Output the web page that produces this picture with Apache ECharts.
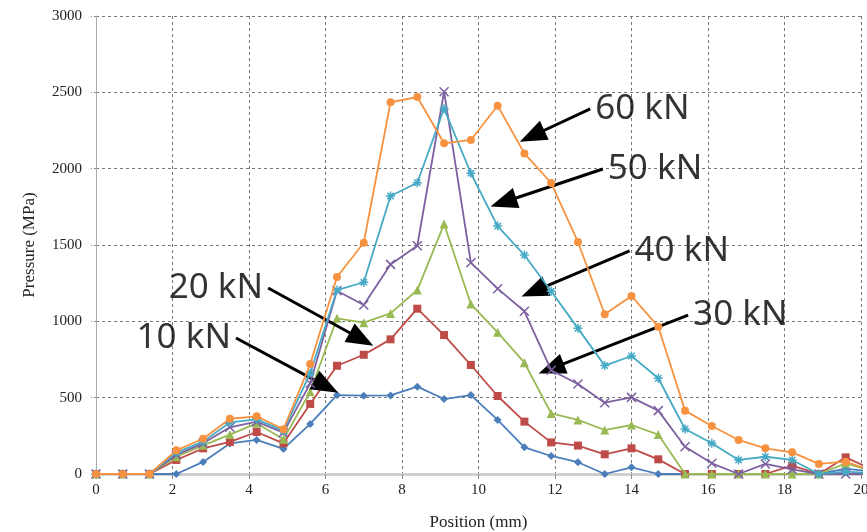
<!DOCTYPE html>
<html>
<head>
<meta charset="utf-8">
<script src="https://cdn.jsdelivr.net/npm/echarts@6/dist/echarts.min.js"></script>
<style>
  html, body { margin: 0; padding: 0; background: #fff; }
  #chart { width: 867px; height: 532px; }
</style>
</head>
<body>
<div id="chart"></div>
<script>
var myChart = echarts.init(document.getElementById('chart'));

// position (mm) of each measuring point
var positions = [0, 0.7, 1.4, 2.1, 2.8, 3.5, 4.2, 4.9, 5.6, 6.3, 7.0, 7.7, 8.4, 9.1, 9.8,
    10.5, 11.2, 11.9, 12.6, 13.3, 14.0, 14.7, 15.4, 16.1, 16.8, 17.5, 18.2, 18.9, 19.6, 20.3];

// pressure (MPa) for each load
var p10 = [0, 0, 0, 0, 79, 200, 223, 164, 328, 517, 513, 515, 572, 491, 517,
    354, 175, 118, 77, 0, 44, 0, 0, 0, 0, 0, 0, 0, 35, 15];
var p20 = [0, 0, 0, 92, 168, 210, 275, 201, 459, 709, 781, 882, 1083, 910, 714,
    511, 343, 207, 186, 129, 168, 96, 0, 0, 0, 0, 55, 0, 109, 30];
var p30 = [0, 0, 0, 113, 188, 258, 332, 227, 539, 1020, 991, 1052, 1205, 1637, 1113,
    928, 729, 397, 354, 288, 321, 258, 0, 0, 0, 0, 0, 0, 70, 20];
var p40 = [0, 0, 0, 125, 201, 306, 343, 271, 594, 1200, 1107, 1373, 1495, 2504, 1384,
    1214, 1066, 680, 590, 467, 502, 415, 179, 70, 0, 66, 31, 0, 0, 0];
var p50 = [0, 0, 0, 140, 212, 338, 358, 284, 660, 1205, 1256, 1821, 1908, 2393, 1970,
    1624, 1434, 1197, 954, 710, 773, 627, 295, 201, 92, 113, 92, 0, 15, 5];
var p60 = [0, 0, 0, 155, 231, 362, 378, 293, 720, 1290, 1515, 2435, 2469, 2166, 2188,
    2412, 2100, 1906, 1520, 1046, 1166, 965, 415, 314, 223, 168, 142, 66, 81, 20];

var loads = ['10 kN', '20 kN', '30 kN', '40 kN', '50 kN', '60 kN'];
var colors = ['#4A7EBB', '#BE4B48', '#98B954', '#7D60A0', '#46AAC5', '#F69240'];

// annotation arrows: label side, start [x, y], arrow head [x, y]
var arrowStart = [[3.66, 891], [4.50, 1218], [15.48, 1041], [13.95, 1461], [13.25, 1998], [12.92, 2391]];
var arrowEnd = [[6.02, 574], [6.94, 883], [11.90, 690], [11.45, 1197], [10.65, 1780], [11.40, 2214]];
var labelSide = ['left', 'left', 'right', 'right', 'right', 'right'];

var starPath = 'path://M5,0L5,10M0,5L10,5M1.5,1.5L8.5,8.5M8.5,1.5L1.5,8.5';
var crossPath = 'path://M0,0L10,10M10,0L0,10';
var symbols = ['diamond', 'rect', 'triangle', crossPath, starPath, 'circle'];
var symbolSizes = [8, 8, 9, 9, 9, 8];

function pairs(vals) {
    var out = [];
    for (var i = 0; i < positions.length; i++) {
        out.push([positions[i], vals[i]]);
    }
    return out;
}

var allValues = [p10, p20, p30, p40, p50, p60];
var series = [];
for (var s = 0; s < allValues.length; s++) {
    var isPath = symbols[s].indexOf('path://') === 0;
    series.push({
        name: loads[s],
        type: 'line',
        data: pairs(allValues[s]),
        symbol: symbols[s],
        symbolSize: symbolSizes[s],
        clip: true,
        lineStyle: { color: colors[s], width: 1.8 },
        itemStyle: {
            color: colors[s],
            borderColor: colors[s],
            borderWidth: isPath ? 1.5 : 0
        },
        emphasis: { disabled: true },
        z: 2 + s
    });
}

// arrows
var arrowLines = [];
for (var a = 0; a < arrowStart.length; a++) {
    arrowLines.push([{ coord: arrowStart[a] }, { coord: arrowEnd[a] }]);
}
series.push({
    type: 'line',
    data: [],
    z: 20,
    markLine: {
        silent: true,
        symbol: ['none', 'triangle'],
        symbolSize: [21, 27],
        label: { show: false },
        lineStyle: { color: '#000', width: 3, type: 'solid' },
        emphasis: { disabled: true },
        data: arrowLines
    }
});

// annotation texts
var labelData = [];
for (var b = 0; b < arrowStart.length; b++) {
    labelData.push({
        value: arrowStart[b],
        label: {
            show: true,
            position: labelSide[b],
            distance: 5,
            formatter: loads[b],
            fontFamily: 'Noto Sans',
            fontSize: 35,
            color: '#000'
        }
    });
}
series.push({
    type: 'scatter',
    symbolSize: 0,
    silent: true,
    z: 21,
    data: labelData
});

var axisFont = { fontFamily: 'Liberation Serif', fontSize: 15, color: '#222' };

myChart.setOption({
    animation: false,
    backgroundColor: '#fff',
    grid: { left: 96, right: 6, top: 16, bottom: 58, containLabel: false, outerBoundsMode: 'none' },
    xAxis: {
        type: 'value',
        min: 0,
        max: 20,
        interval: 2,
        name: 'Position (mm)',
        nameLocation: 'middle',
        nameGap: 40,
        nameTextStyle: { fontFamily: 'Liberation Serif', fontSize: 17, color: '#222' },
        axisLine: { show: true, onZero: false, lineStyle: { color: '#cfcfcf', width: 3 } },
        axisTick: { show: true, length: 5, lineStyle: { color: '#888' } },
        axisLabel: Object.assign({ margin: 9 }, axisFont),
        splitLine: { show: true, lineStyle: { color: '#777', type: [3, 3], width: 1 } }
    },
    yAxis: {
        type: 'value',
        min: 0,
        max: 3000,
        interval: 500,
        name: 'Pressure (MPa)',
        nameLocation: 'middle',
        nameGap: 58,
        nameTextStyle: { fontFamily: 'Liberation Serif', fontSize: 17, color: '#222' },
        axisLine: { show: true, lineStyle: { color: '#aaa', width: 1 } },
        axisTick: { show: true, length: 5, lineStyle: { color: '#888', type: [2, 2] } },
        axisLabel: Object.assign({
            margin: 14,
            formatter: function (v) { return String(v); }
        }, axisFont),
        splitLine: { show: true, lineStyle: { color: '#777', type: [3, 3], width: 1 } }
    },
    series: series
});
</script>
</body>
</html>
